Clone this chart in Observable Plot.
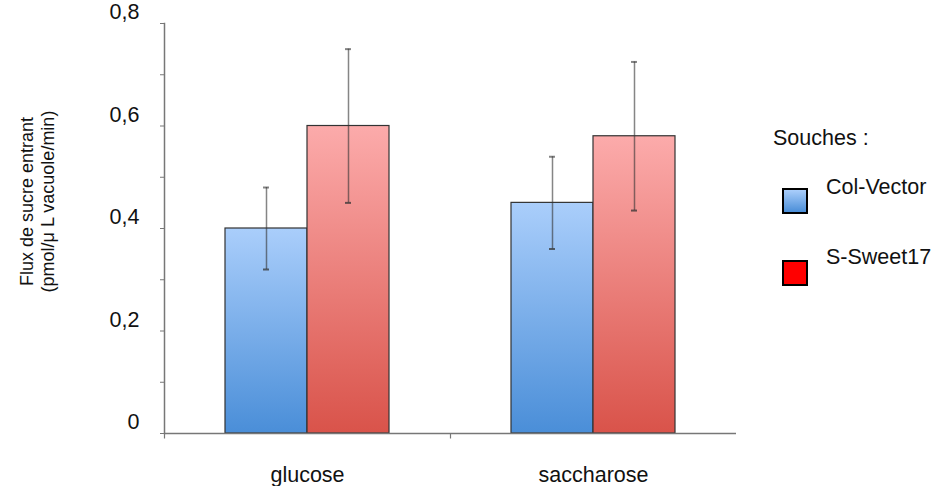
<!DOCTYPE html>
<html>
<head>
<meta charset="utf-8">
<script src="https://cdn.jsdelivr.net/npm/d3@7"></script>
<script src="https://cdn.jsdelivr.net/npm/@observablehq/plot@0.6"></script>
<style>
  html, body { margin: 0; padding: 0; background: #fff; }
  #wrap { position: relative; width: 931px; height: 486px; font-family: "Liberation Sans", Arial, sans-serif; color: #111; }
  #legend { position: absolute; left: 0; top: 0; }
  .lg-title { position: absolute; left: 773px; top: 126px; font-size: 21.5px; white-space: nowrap; }
  .lg-sw { position: absolute; left: 782px; width: 22px; height: 22px; border: 2px solid #000; }
  .lg-lab { position: absolute; left: 826px; font-size: 21.5px; white-space: nowrap; }
</style>
</head>
<body>
<div id="wrap">
  <div id="chart"></div>
  <div id="legend"></div>
</div>
<script>
// ---- data ----
const sugars = ["glucose", "saccharose"];
const strains = ["Col-Vector", "S-Sweet17"];
const barSugar = ["glucose", "glucose", "saccharose", "saccharose"];
const barStrain = ["Col-Vector", "S-Sweet17", "Col-Vector", "S-Sweet17"];
const fluxMean = [0.40, 0.60, 0.45, 0.58];
const fluxErr = [0.08, 0.15, 0.09, 0.145];
const yTicks = [0, 0.2, 0.4, 0.6, 0.8];
const yMinorTicks = [0.1, 0.3, 0.5, 0.7];
const yTitle = "Flux de sucre entrant\n(pmol/\u03bc L vacuole/min)";
const legendTitle = "Souches :";

const rows = barSugar.map((s, i) => ({
  sugar: s, strain: barStrain[i], mean: fluxMean[i],
  lo: fluxMean[i] - fluxErr[i], hi: fluxMean[i] + fluxErr[i]
}));

const defsMark = () => {
  const ns = "http://www.w3.org/2000/svg";
  const defs = document.createElementNS(ns, "defs");
  const grads = [
    ["gradBlue", "#aacefb", "#4a8ed8"],
    ["gradRed", "#fcabab", "#d9534a"]
  ];
  for (const [id, c0, c1] of grads) {
    const g = document.createElementNS(ns, "linearGradient");
    g.setAttribute("id", id);
    g.setAttribute("x1", "0"); g.setAttribute("y1", "0");
    g.setAttribute("x2", "0"); g.setAttribute("y2", "1");
    const s0 = document.createElementNS(ns, "stop");
    s0.setAttribute("offset", "0"); s0.setAttribute("stop-color", c0);
    const s1 = document.createElementNS(ns, "stop");
    s1.setAttribute("offset", "1"); s1.setAttribute("stop-color", c1);
    g.appendChild(s0); g.appendChild(s1);
    defs.appendChild(g);
  }
  return defs;
};

const tickDown = { draw(context) { context.moveTo(0, 0); context.lineTo(0, 5); } };
const fmt = d => String(d).replace(".", ",");

const chart = Plot.plot({
  width: 931,
  height: 486,
  marginLeft: 163,
  marginRight: 195,
  marginTop: 23,
  marginBottom: 53,
  style: { fontFamily: "'Liberation Sans', Arial, sans-serif", color: "#111", background: "#fff" },
  fx: { domain: sugars, padding: 0 },
  x: { domain: strains, paddingInner: 0, paddingOuter: 0.74, axis: null },
  y: { domain: [0, 0.8] },
  color: { domain: strains, range: ["url(#gradBlue)", "url(#gradRed)"] },
  marks: [
    defsMark,
    Plot.barY(rows, { fx: "sugar", x: "strain", y: "mean", fill: "strain", stroke: "#333", strokeWidth: 1.2 }),
    Plot.ruleX(rows, { fx: "sugar", x: "strain", y1: "lo", y2: "hi", stroke: "#333", strokeOpacity: 0.6, strokeWidth: 1.5 }),
    Plot.tickY(rows, { fx: "sugar", x: "strain", y: "lo", stroke: "#333", strokeOpacity: 0.75, strokeWidth: 2, inset: 38 }),
    Plot.tickY(rows, { fx: "sugar", x: "strain", y: "hi", stroke: "#333", strokeOpacity: 0.6, strokeWidth: 2, inset: 38 }),
    Plot.ruleY([0], { stroke: "#777", strokeWidth: 1.5 }),
    Plot.frame({ anchor: "left", facetAnchor: "left", stroke: "#777", strokeWidth: 1.5 }),
    Plot.dot([0], { frameAnchor: "bottom-left", symbol: tickDown, stroke: "#777", strokeWidth: 1.2, r: 3 }),
    Plot.axisY({ ticks: yTicks.concat(yMinorTicks), tickSize: 4, tickFormat: () => "", stroke: "#777", label: null }),
    Plot.axisY({ ticks: yTicks, tickSize: 0, tickPadding: 25, tickFormat: fmt, fontSize: 21.5, dy: -11, label: null }),
    Plot.axisFx({ anchor: "bottom", tickSize: 0, tickPadding: 33, fontSize: 21.5, label: null }),
    Plot.text([yTitle], { text: d => d, frameAnchor: "left", facetAnchor: "left", textAnchor: "middle", rotate: -90, dx: -128, dy: -27, fontSize: 18, lineHeight: 1.2 })
  ]
});
document.getElementById("chart").appendChild(chart);

// legend
const lg = document.getElementById("legend");
const t = document.createElement("div");
t.className = "lg-title"; t.textContent = legendTitle; lg.appendChild(t);
const swatchFill = ["linear-gradient(#aacefb, #4a8ed8)", "#ff0000"];
const swTop = [188, 260];
const labTop = [175, 245];
strains.forEach((s, i) => {
  const sw = document.createElement("div");
  sw.className = "lg-sw"; sw.style.top = swTop[i] + "px"; sw.style.background = swatchFill[i];
  lg.appendChild(sw);
  const lb = document.createElement("div");
  lb.className = "lg-lab"; lb.style.top = labTop[i] + "px"; lb.textContent = s;
  lg.appendChild(lb);
});
</script>
</body>
</html>
